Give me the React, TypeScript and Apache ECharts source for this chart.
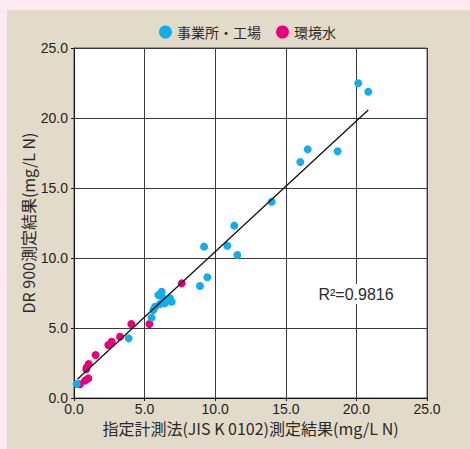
import React, { useEffect, useRef } from "react";
import * as echarts from "echarts";

const SERIES_NAMES = ["事業所・工場", "環境水"];
const blueX = [20.13, 20.84, 16.55, 16.03, 18.67, 14.0, 11.35, 9.21, 10.86, 11.57, 9.44, 8.92, 6.21, 5.97, 6.32, 6.8, 6.92, 6.44, 6.09, 5.74, 5.62, 5.5, 3.87, 0.19];
const blueY = [22.48, 21.88, 17.76, 16.86, 17.62, 14.02, 12.31, 10.81, 10.88, 10.21, 8.62, 8.0, 7.59, 7.36, 7.12, 7.12, 6.88, 6.76, 6.71, 6.52, 6.29, 5.74, 4.26, 1.0];
const pinkX = [7.63, 5.34, 4.06, 3.26, 2.67, 2.43, 1.53, 1.04, 0.9, 0.87, 1.01, 0.78, 0.42];
const pinkY = [8.19, 5.29, 5.29, 4.38, 4.02, 3.79, 3.07, 2.43, 2.19, 2.05, 1.4, 1.24, 0.98];
const trendX = [0.24, 20.84];
const trendY = [1.34, 20.57];
const R2_TEXT = "R²=0.9816";
const X_NAME = "指定計測法(JIS K 0102)測定結果(mg/L N)";
const Y_NAME = "DR 900測定結果(mg/L N)";

const BLUE = "#12aeea";
const PINK = "#e5007f";
const CJK = "'Noto Sans CJK JP', 'Liberation Sans', sans-serif";
const NUM = "'Liberation Sans', Arial, sans-serif";

const zip = (a: number[], b: number[]) => a.map((v, i) => [v, b[i]]);

export default function App() {
  const ref = useRef<HTMLDivElement>(null);
  useEffect(() => {
    if (!ref.current) return;
    const chart = echarts.init(ref.current, null, { renderer: "svg" });
    const axisCommon = {
      type: "value" as const,
      min: 0,
      max: 25,
      interval: 5,
      axisLine: { show: true, lineStyle: { color: "#111", width: 1 } },
      axisTick: { show: true, length: 3, lineStyle: { color: "#111" } },
      splitLine: { show: true, lineStyle: { color: "#3a3a3a", width: 1 } },
      axisLabel: {
        color: "#222",
        fontSize: 14,
        fontFamily: NUM,
        formatter: (v: number) => v.toFixed(1),
      },
      nameLocation: "middle" as const,
      nameMoveOverlap: false,
      nameTextStyle: { color: "#2a2a2a", fontSize: 16, fontFamily: CJK },
    };
    chart.setOption({
      animation: false,
      backgroundColor: "#e3dbc9",
      grid: {
        left: 67,
        top: 38,
        right: 43,
        bottom: 51,
        show: true,
        backgroundColor: "#ffffff",
        borderColor: "#555",
        borderWidth: 1,
      },
      legend: {
        data: SERIES_NAMES,
        left: 147,
        top: 10,
        icon: "circle",
        itemWidth: 13,
        itemHeight: 13,
        itemGap: 15,
        textStyle: { color: "#2a2a2a", fontSize: 14, fontFamily: CJK },
      },
      xAxis: {
        ...axisCommon,
        name: X_NAME,
        nameGap: 22,
        axisLabel: { ...axisCommon.axisLabel, margin: 4 },
      },
      yAxis: {
        ...axisCommon,
        name: Y_NAME,
        nameGap: 38,
        axisLabel: { ...axisCommon.axisLabel, margin: 6 },
      },
      graphic: [
        {
          type: "text",
          x: 349,
          y: 284,
          z: 100,
          style: {
            text: R2_TEXT,
            fontSize: 16,
            fontFamily: NUM,
            fill: "#2a2a2a",
            align: "center",
            verticalAlign: "middle",
            backgroundColor: "#ffffff",
            padding: [2, 3],
          },
        },
      ],
      series: [
        {
          name: SERIES_NAMES[1],
          type: "scatter",
          symbolSize: 8,
          itemStyle: { color: PINK, opacity: 1 },
          data: zip(pinkX, pinkY),
          z: 2,
        },
        {
          name: SERIES_NAMES[0],
          type: "scatter",
          symbolSize: 8,
          itemStyle: { color: BLUE, opacity: 1 },
          data: zip(blueX, blueY),
          z: 3,
        },
        {
          name: "trend",
          type: "line",
          data: zip(trendX, trendY),
          showSymbol: false,
          symbol: "none",
          lineStyle: { color: "#111", width: 1.3 },
          z: 4,
          silent: true,
        },
      ],
    });
    return () => chart.dispose();
  }, []);
  return (
    <div style={{ position: "fixed", left: 0, top: 0, width: 470, height: 449, background: "#fde9f2" }}>
      <div ref={ref} style={{ position: "absolute", left: 7, top: 10, width: 463, height: 439 }} />
    </div>
  );
}
